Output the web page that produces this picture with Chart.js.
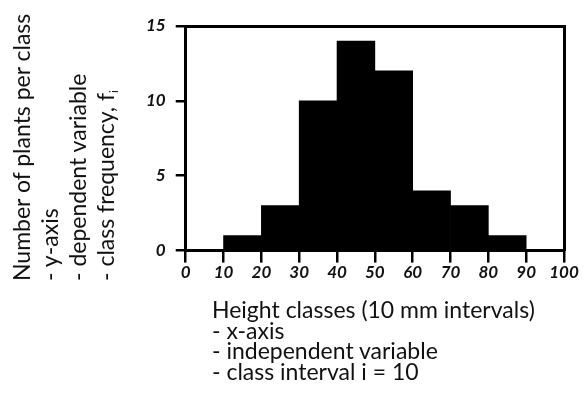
<!DOCTYPE html>
<html>
<head>
<meta charset="utf-8">
<script src="https://cdn.jsdelivr.net/npm/chart.js@4"></script>
<style>
  html, body { margin: 0; padding: 0; background: #fff; }
  #wrap { position: relative; width: 585px; height: 405px; }
  #histo { position: absolute; left: 0; top: 0; }
  .ttl { position: absolute; font-family: Lato, "Noto Sans", sans-serif; font-size: 23px; color: #111; white-space: nowrap; }
  .ttl div { line-height: 28px; }
  #yTitle { left: 7px; top: 281px; transform-origin: left top; transform: rotate(-90deg); }
  #xTitle { left: 212px; top: 299px; }
  #xTitle div { line-height: 20.5px; }
  sub { font-size: 12px; vertical-align: -4px; }
</style>
</head>
<body>
<div id="wrap">
  <canvas id="histo" width="585" height="405"></canvas>
  <div class="ttl" id="yTitle">
    <div>Number of plants per class</div>
    <div>- y-axis</div>
    <div>- dependent variable</div>
    <div>- class frequency, f<sub>i</sub></div>
  </div>
  <div class="ttl" id="xTitle">
    <div>Height classes (10 mm intervals)</div>
    <div>- x-axis</div>
    <div>- independent variable</div>
    <div>- class interval i = 10</div>
  </div>
</div>
<script>
// lower edge of each height class (mm), class width 10
const classStarts = [10, 20, 30, 40, 50, 60, 70, 80];
const classWidth = 10;
// number of plants per class
const plantCounts = [1, 3, 10, 14, 12, 4, 3, 1];

const xTicks = [0, 10, 20, 30, 40, 50, 60, 70, 80, 90, 100];
const yTicks = [0, 5, 10, 15];

const ink = "#000";
const tickFont = {family: "Lato, 'Noto Sans', sans-serif", size: 17, style: "italic", weight: "bold"};

// bars sit on class midpoints so a linear axis gives full-width bins
const barPoints = classStarts.map(function(s, i){
	return {x: s + classWidth / 2, y: plantCounts[i]};
});

new Chart("histo", {
	type: "bar",
	data: {
		datasets: [{
			data: barPoints,
			backgroundColor: ink,
			borderWidth: 0,
			barPercentage: 1.0,
			categoryPercentage: 1.0
		}]
	},
	options: {
		responsive: false,
		animation: false,
		layout: {padding: {left: 136, right: 21, top: 26, bottom: 122}},
		plugins: {legend: {display: false}, tooltip: {enabled: false}},
		scales: {
			x: {
				type: "linear",
				position: "bottom",
				min: xTicks[0],
				max: xTicks[xTicks.length - 1],
				offset: false,
				afterBuildTicks: function(scale){ scale.ticks = xTicks.map(v => ({value: v})); },
				grid: {offset: false, drawOnChartArea: false, drawTicks: true, tickLength: 12, color: ink, lineWidth: 2.5},
				border: {display: true, color: ink, width: 3},
				ticks: {color: "#111", font: tickFont, padding: 0, maxRotation: 0, autoSkip: false}
			},
			y: {
				position: "left",
				min: yTicks[0],
				max: yTicks[yTicks.length - 1],
				afterBuildTicks: function(scale){ scale.ticks = yTicks.map(v => ({value: v})); },
				grid: {drawOnChartArea: false, drawTicks: true, tickLength: 10, color: ink, lineWidth: 2.5},
				border: {display: true, color: ink, width: 3},
				ticks: {color: "#111", font: tickFont, padding: 10}
			},
			// top and right edges of the frame
			x2: {
				type: "linear",
				position: "top",
				min: xTicks[0],
				max: xTicks[xTicks.length - 1],
				grid: {display: false, drawTicks: false},
				border: {display: true, color: ink, width: 3},
				ticks: {display: false}
			},
			y2: {
				type: "linear",
				position: "right",
				min: yTicks[0],
				max: yTicks[yTicks.length - 1],
				grid: {display: false, drawTicks: false},
				border: {display: true, color: ink, width: 3},
				ticks: {display: false}
			}
		}
	}
});
</script>
</body>
</html>
